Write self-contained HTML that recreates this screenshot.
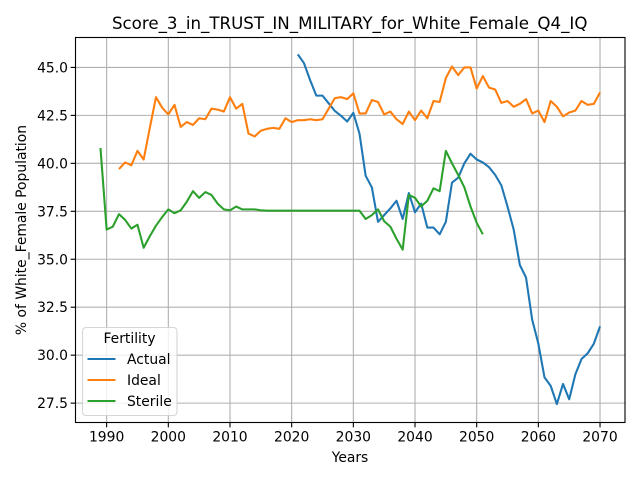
<!DOCTYPE html>
<html>
<head>
<meta charset="utf-8">
<title>Score_3_in_TRUST_IN_MILITARY_for_White_Female_Q4_IQ</title>
<style>
html,body{margin:0;padding:0;background:#fff;}
svg{display:block;}
text{font-family:"DejaVu Sans",sans-serif;font-size:13.89px;fill:#000;}
</style>
</head>
<body>
<svg id="chart" xmlns="http://www.w3.org/2000/svg" width="640" height="480" viewBox="0 0 640 480">
  <rect x="0" y="0" width="640" height="480" fill="#ffffff"/>
  <g id="grid"></g>
  <g id="series"></g>
  <rect x="75.5" y="37.5" width="549.5" height="385" fill="none" stroke="#000" stroke-width="1.11"/>
  <g id="ticks"></g>
  <text x="349.7" y="29" text-anchor="middle" style="font-size:16.67px">Score_3_in_TRUST_IN_MILITARY_for_White_Female_Q4_IQ</text>
  <text x="350" y="462" text-anchor="middle">Years</text>
  <text x="0" y="0" text-anchor="middle" transform="translate(26,230) rotate(-90)">% of White_Female Population</text>
  <g>
    <rect x="82.5" y="327.5" width="94.5" height="88" rx="3.5" fill="#ffffff" fill-opacity="0.8" stroke="#cccccc" stroke-opacity="0.8" stroke-width="1.11"/>
    <text x="129.5" y="343" text-anchor="middle">Fertility</text>
    <line x1="87.5" y1="359" x2="115.5" y2="359" stroke="#1f77b4" stroke-width="2.08"/>
    <text x="127" y="364">Actual</text>
    <line x1="87.5" y1="380" x2="115.5" y2="380" stroke="#ff7f0e" stroke-width="2.08"/>
    <text x="127" y="385">Ideal</text>
    <line x1="87.5" y1="401" x2="115.5" y2="401" stroke="#2ca02c" stroke-width="2.08"/>
    <text x="127" y="406">Sterile</text>
  </g>
</svg>
<script>
var xTickValues = [1990, 2000, 2010, 2020, 2030, 2040, 2050, 2060, 2070];
var yTickValues = [27.5, 30.0, 32.5, 35.0, 37.5, 40.0, 42.5, 45.0];
var yTickLabels = ["27.5", "30.0", "32.5", "35.0", "37.5", "40.0", "42.5", "45.0"];
var actualStartYear = 2021;
var actualValues = [45.68,45.22,44.33,43.53,43.53,43.13,42.73,42.48,42.18,42.63,
  41.55,39.35,38.75,36.95,37.3,37.65,38.05,37.1,38.45,37.45,
  37.9,36.65,36.65,36.3,36.95,39.0,39.25,40.0,40.5,40.2,
  40.05,39.8,39.4,38.85,37.75,36.55,34.7,34.05,31.85,30.6,
  28.84,28.4,27.45,28.5,27.7,29.0,29.8,30.1,30.6,31.5];
var idealStartYear = 1992;
var idealValues = [39.7,40.05,39.9,40.65,40.2,41.85,43.45,42.9,
  42.55,43.05,41.9,42.15,42.0,42.35,42.3,42.85,42.8,42.7,
  43.45,42.85,43.1,41.55,41.4,41.7,41.8,41.85,41.8,42.35,
  42.15,42.25,42.25,42.3,42.25,42.3,42.85,43.4,43.45,43.35,
  43.65,42.6,42.6,43.3,43.2,42.55,42.7,42.3,42.05,42.7,
  42.25,42.75,42.35,43.25,43.2,44.45,45.05,44.6,45.0,45.0,
  43.9,44.55,43.95,43.85,43.15,43.25,42.95,43.1,43.35,42.6,
  42.75,42.15,43.25,42.95,42.45,42.65,42.75,43.25,43.05,43.1,43.7];
var sterileStartYear = 1989;
var sterileValues = [40.8,36.55,36.7,37.35,37.05,36.6,36.8,35.6,36.2,36.75,37.2,
  37.6,37.4,37.55,38.0,38.55,38.2,38.5,38.35,37.9,37.6,
  37.55,37.75,37.6,37.6,37.6,37.55,37.53,37.53,37.53,37.53,
  37.53,37.53,37.53,37.53,37.53,37.53,37.53,37.53,37.53,37.53,
  37.53,37.53,37.1,37.3,37.6,36.98,36.7,36.07,35.5,38.35,38.2,
  37.75,38.05,38.7,38.55,40.65,40.0,39.4,38.75,37.75,36.9,36.3];

var plotLeft = 75.5, plotRight = 625, plotTop = 37.5, plotBottom = 422.5;
var xMin = 1984.95, xMax = 2074.05, yMin = 26.49, yMax = 46.56;
var svgNS = "http://www.w3.org/2000/svg";

function xScale(v) { return plotLeft + (v - xMin) / (xMax - xMin) * (plotRight - plotLeft); }
function yScale(v) { return plotBottom - (v - yMin) / (yMax - yMin) * (plotBottom - plotTop); }
function make(tag, attrs, parent) {
  var el = document.createElementNS(svgNS, tag);
  for (var k in attrs) el.setAttribute(k, attrs[k]);
  parent.appendChild(el);
  return el;
}

var gridGroup = document.getElementById("grid");
var tickGroup = document.getElementById("ticks");
var seriesGroup = document.getElementById("series");

xTickValues.forEach(function (v) {
  var x = xScale(v);
  var g = make("line", {x1: x, x2: x, y1: plotTop, y2: plotBottom, stroke: "#b0b0b0", "stroke-width": 1.11}, gridGroup);
  
  
  var t = make("line", {x1: x, x2: x, y1: plotBottom, y2: plotBottom + 4.86, stroke: "#000", "stroke-width": 1.11}, tickGroup);
  
  
  var l = make("text", {x: x, y: 441.5, "text-anchor": "middle"}, tickGroup);
  
  
  l.textContent = String(v);
});

yTickValues.forEach(function (v, i) {
  var y = yScale(v);
  var g = make("line", {x1: plotLeft, x2: plotRight, y1: y, y2: y, stroke: "#b0b0b0", "stroke-width": 1.11}, gridGroup);
  
  
  var t = make("line", {x1: plotLeft - 4.86, x2: plotLeft, y1: y, y2: y, stroke: "#000", "stroke-width": 1.11}, tickGroup);
  
  
  var l = make("text", {x: plotLeft - 7.5, y: y + 5, "text-anchor": "end"}, tickGroup);
  
  
  l.textContent = yTickLabels[i];
});

function pointsFor(startYear, values) {
  return values.map(function (v, i) {
    return xScale(startYear + i).toFixed(2) + "," + yScale(v).toFixed(2);
  }).join(" ");
}

var actualLine = make("polyline", {points: pointsFor(actualStartYear, actualValues), fill: "none", stroke: "#1f77b4", "stroke-width": 2.08, "stroke-linejoin": "round"}, seriesGroup);


var idealLine = make("polyline", {points: pointsFor(idealStartYear, idealValues), fill: "none", stroke: "#ff7f0e", "stroke-width": 2.08, "stroke-linejoin": "round"}, seriesGroup);


var sterileLine = make("polyline", {points: pointsFor(sterileStartYear, sterileValues), fill: "none", stroke: "#2ca02c", "stroke-width": 2.08, "stroke-linejoin": "round"}, seriesGroup);


</script>
</body>
</html>
